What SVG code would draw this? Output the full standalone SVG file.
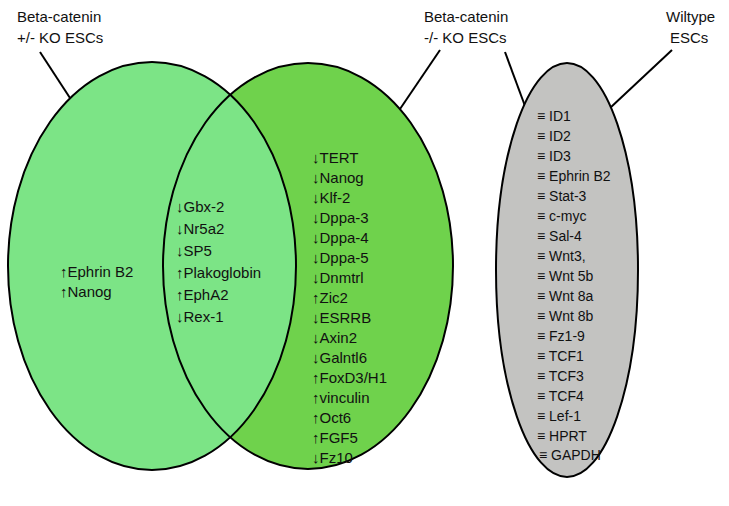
<svg xmlns="http://www.w3.org/2000/svg" width="729" height="506" viewBox="0 0 729 506">
<style>
text{font-family:"Liberation Sans",Arial,sans-serif;font-size:15px;fill:#111}
.l text{font-size:14px}
.o{fill:none;stroke:#000;stroke-width:2}
</style>
<rect width="729" height="506" fill="#fff"/>
<g id="connectors" stroke="#000" stroke-width="2">
<line x1="40" y1="52" x2="70" y2="98"/>
<line x1="440" y1="50" x2="400" y2="109"/>
<line x1="505" y1="52" x2="525" y2="106"/>
<line x1="672" y1="50" x2="610" y2="108"/>
</g>
<g id="ko-minus">
<ellipse cx="308" cy="266" rx="145" ry="203" fill="#6fd24c"/>
</g>
<g id="ko-het" class="l">
<ellipse cx="152" cy="266" rx="144" ry="204" class="o" style="fill:#7ce486"/>
<text x="60" y="277" style="font-size:15px">↑Ephrin B2</text><text x="60" y="297" style="font-size:15px">↑Nanog</text>
</g>
<g id="labels">
<text x="17" y="22">Beta-catenin</text><text x="17" y="43">+/- KO ESCs</text>
<text x="424" y="22">Beta-catenin</text><text x="424" y="43">-/- KO ESCs</text>
<text x="666" y="22">Wiltype</text><text x="670" y="43">ESCs</text>
</g>
<g id="overlap">
<text x="176" y="212">↓Gbx-2</text><text x="176" y="234">↓Nr5a2</text><text x="176" y="256">↓SP5</text>
<text x="176" y="278">↑Plakoglobin</text><text x="176" y="300">↑EphA2</text><text x="176" y="322">↓Rex-1</text>
</g>
<g id="ko-minus-list">
<ellipse cx="308" cy="266" rx="145" ry="203" class="o"/>
<text x="312" y="163">↓TERT</text><text x="312" y="183">↓Nanog</text><text x="312" y="203">↓Klf-2</text>
<text x="312" y="223">↓Dppa-3</text><text x="312" y="243">↓Dppa-4</text><text x="312" y="263">↓Dppa-5</text>
<text x="312" y="283">↓Dnmtrl</text><text x="312" y="303">↑Zic2</text><text x="312" y="323">↓ESRRB</text>
<text x="312" y="343">↓Axin2</text><text x="312" y="363">↓Galntl6</text><text x="312" y="383">↑FoxD3/H1</text>
<text x="312" y="403">↑vinculin</text><text x="312" y="423">↑Oct6</text><text x="312" y="443">↑FGF5</text>
<text x="312" y="463">↓Fz10</text>
</g>
<g id="wildtype" class="l">
<ellipse cx="567" cy="270" rx="71" ry="207" class="o" style="fill:#c3c3c1"/>
<text x="537" y="121">≡ ID1</text><text x="537" y="141">≡ ID2</text><text x="537" y="161">≡ ID3</text>
<text x="537" y="181">≡ Ephrin B2</text><text x="537" y="201">≡ Stat-3</text><text x="537" y="221">≡ c-myc</text>
<text x="537" y="241">≡ Sal-4</text><text x="537" y="261">≡ Wnt3,</text><text x="537" y="281">≡ Wnt 5b</text>
<text x="537" y="301">≡ Wnt 8a</text><text x="537" y="321">≡ Wnt 8b</text><text x="537" y="341">≡ Fz1-9</text>
<text x="537" y="361">≡ TCF1</text><text x="537" y="381">≡ TCF3</text><text x="537" y="401">≡ TCF4</text>
<text x="537" y="421">≡ Lef-1</text><text x="537" y="441">≡ HPRT</text><text x="539" y="460">≡ GAPDH</text>
</g>
</svg>
